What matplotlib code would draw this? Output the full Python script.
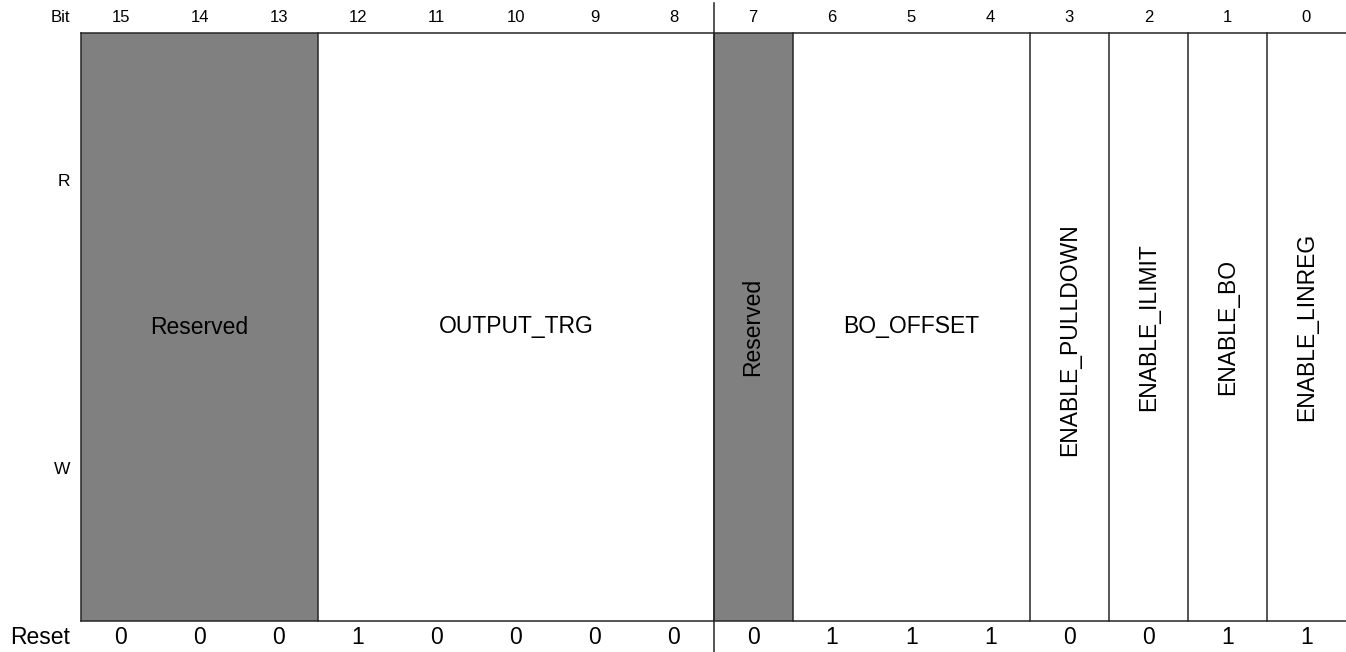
import matplotlib.pyplot as plt
from matplotlib.patches import Rectangle

plt.rcParams['font.family'] = ['Liberation Sans', 'DejaVu Sans']

# register layout: bit 15 on the left, bit 0 on the right
bits = list(range(15, -1, -1))
reset_values = [0, 0, 0, 1, 0, 0, 0, 0, 0, 1, 1, 1, 0, 0, 1, 1]

field_names = ["Reserved", "OUTPUT_TRG", "Reserved", "BO_OFFSET",
               "ENABLE_PULLDOWN", "ENABLE_ILIMIT", "ENABLE_BO", "ENABLE_LINREG"]
field_msb = [15, 12, 7, 6, 3, 2, 1, 0]
field_lsb = [13, 8, 7, 4, 3, 2, 1, 0]
field_reserved = [True, False, True, False, False, False, False, False]
field_vertical = [False, False, True, False, True, True, True, True]
field_label_y = [0.5, 0.5, 0.5, 0.5, 0.478, 0.5, 0.5, 0.5]

W, H = 1346, 652
fig = plt.figure(figsize=(W / 100, H / 100), dpi=100)
ax = fig.add_axes([81 / W, (H - 621) / H, (W - 81) / W, 588 / H])
ax.set_xlim(0, 16)
ax.set_ylim(0, 1)
ax.axis('off')

line_kw = dict(color='#262626', lw=1.1, clip_on=False)

for name, msb, lsb, res, vert, ly in zip(field_names, field_msb, field_lsb,
                                         field_reserved, field_vertical,
                                         field_label_y):
    x0 = 15 - msb
    width = msb - lsb + 1
    if res:
        ax.add_patch(Rectangle((x0, 0), width, 1, facecolor='#808080',
                               edgecolor='none', zorder=1))
    ax.plot([x0, x0], [0, 1], **line_kw, zorder=2)
    ax.text(x0 + width / 2, ly, name, ha='center', va='center',
            fontsize=16.5, rotation=90 if vert else 0, zorder=3)

# top / bottom edges
ax.plot([0, 16], [1, 1], **line_kw)
ax.plot([0, 16], [0, 0], **line_kw)

# byte separator running through the headers
ax.plot([8, 8], [(621 - 3) / 588, (621 - 652) / 588], **line_kw)

# bit numbers and reset values
top_y = (621 - 17) / 588
reset_y = (621 - 637) / 588
for i, (b, r) in enumerate(zip(bits, reset_values)):
    ax.text(i + 0.5, top_y, str(b), ha='center', va='center', fontsize=12,
            clip_on=False)
    ax.text(i + 0.5, reset_y, str(r), ha='center', va='center', fontsize=16.5,
            clip_on=False)

# row labels
lab_x = (70 - 81) / 79.06
ax.text(lab_x, top_y, "Bit", ha='right', va='center', fontsize=12)
ax.text(lab_x, (621 - 182) / 588, "R", ha='right', va='center', fontsize=12.5)
ax.text(lab_x, (621 - 469) / 588, "W", ha='right', va='center', fontsize=12.5)
ax.text(lab_x, reset_y, "Reset", ha='right', va='center', fontsize=16.5)

plt.savefig('out.png', dpi=100)
